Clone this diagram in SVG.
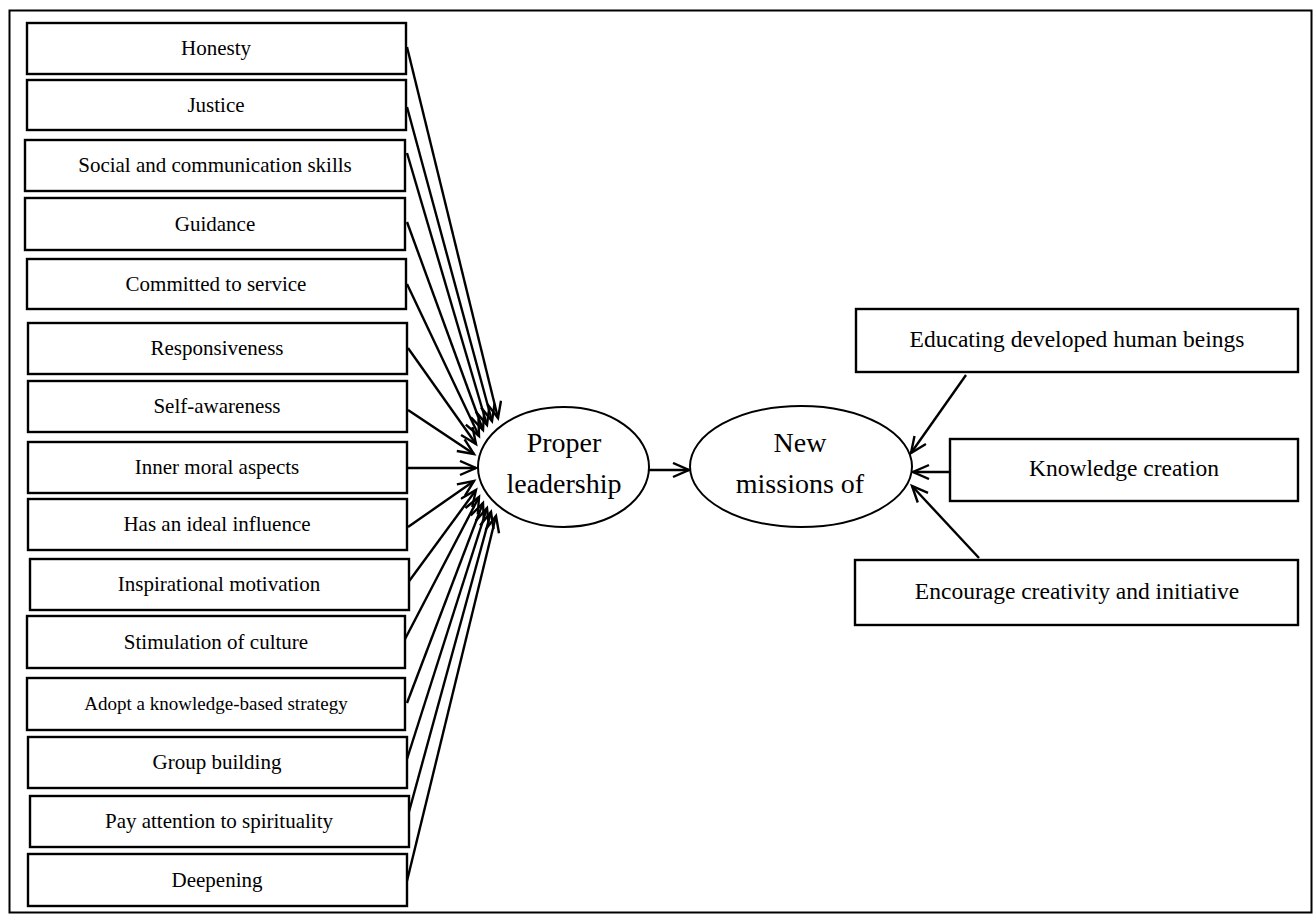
<svg xmlns="http://www.w3.org/2000/svg" width="1314" height="914" viewBox="0 0 1314 914">
<style>
.box{fill:#fff;stroke:#000;stroke-width:2.4}
.ell{fill:#fff;stroke:#000;stroke-width:2}
.t{font-family:"Liberation Serif","Times New Roman",serif;font-size:21px;fill:#000;text-anchor:middle}
.ts{font-size:19px}
.tr{font-size:23.5px}
.te{font-size:28px}
.c{stroke:#000;stroke-width:2.4;fill:none;marker-end:url(#ah)}
</style>
<defs>
<marker id="ah" markerUnits="userSpaceOnUse" markerWidth="20" markerHeight="18" refX="17" refY="8" orient="auto">
<path d="M1,1 L17,8 L1,15" fill="none" stroke="#000" stroke-width="2.4"/>
</marker>
</defs>
<rect x="0" y="0" width="1314" height="914" fill="#fff"/>
<rect x="9.5" y="10.5" width="1302" height="902" fill="none" stroke="#000" stroke-width="2"/>

<g id="connectors">
<line class="c" x1="407" y1="47" x2="498" y2="418"/>
<line class="c" x1="407" y1="107" x2="492" y2="421"/>
<line class="c" x1="407" y1="153" x2="487" y2="425"/>
<line class="c" x1="407" y1="222" x2="483" y2="430"/>
<line class="c" x1="407" y1="284" x2="479" y2="436"/>
<line class="c" x1="408" y1="348" x2="476" y2="444"/>
<line class="c" x1="408" y1="410" x2="474" y2="454"/>
<line class="c" x1="408" y1="468" x2="476" y2="468"/>
<line class="c" x1="408" y1="527" x2="474" y2="481"/>
<line class="c" x1="407" y1="584" x2="476" y2="490"/>
<line class="c" x1="404" y1="641" x2="479" y2="497"/>
<line class="c" x1="407" y1="703" x2="483" y2="503"/>
<line class="c" x1="407" y1="759" x2="487" y2="508"/>
<line class="c" x1="407" y1="819" x2="491" y2="512"/>
<line class="c" x1="407" y1="881" x2="496" y2="516"/>
<line class="c" x1="649" y1="470" x2="689" y2="470"/>
<line class="c" x1="966" y1="375" x2="911" y2="453"/>
<line class="c" x1="950" y1="472" x2="913" y2="472"/>
<line class="c" x1="979" y1="558" x2="912" y2="486"/>
</g>

<g id="n1"><rect class="box" x="27" y="23" width="379" height="51"/><text class="t" x="216" y="55">Honesty</text></g>
<g id="n2"><rect class="box" x="27" y="80" width="379" height="50"/><text class="t" x="216" y="112">Justice</text></g>
<g id="n3"><rect class="box" x="25" y="140" width="380" height="51"/><text class="t" x="215" y="172">Social and communication skills</text></g>
<g id="n4"><rect class="box" x="25" y="198" width="380" height="52"/><text class="t" x="215" y="231">Guidance</text></g>
<g id="n5"><rect class="box" x="27" y="259" width="379" height="50"/><text class="t" x="216" y="291">Committed to service</text></g>
<g id="n6"><rect class="box" x="28" y="323" width="379" height="51"/><text class="t" x="217" y="355">Responsiveness</text></g>
<g id="n7"><rect class="box" x="28" y="381" width="379" height="51"/><text class="t" x="217" y="413">Self-awareness</text></g>
<g id="n8"><rect class="box" x="28" y="442" width="379" height="51"/><text class="t" x="217" y="474">Inner moral aspects</text></g>
<g id="n9"><rect class="box" x="28" y="499" width="379" height="51"/><text class="t" x="217" y="531">Has an ideal influence</text></g>
<g id="n10"><rect class="box" x="30" y="559" width="379" height="51"/><text class="t" x="219" y="591">Inspirational motivation</text></g>
<g id="n11"><rect class="box" x="27" y="616" width="378" height="52"/><text class="t" x="216" y="649">Stimulation of culture</text></g>
<g id="n12"><rect class="box" x="27" y="678" width="378" height="52"/><text class="t ts" x="216" y="710">Adopt a knowledge-based strategy</text></g>
<g id="n13"><rect class="box" x="28" y="737" width="379" height="51"/><text class="t" x="217" y="769">Group building</text></g>
<g id="n14"><rect class="box" x="30" y="796" width="379" height="51"/><text class="t" x="219" y="828">Pay attention to spirituality</text></g>
<g id="n15"><rect class="box" x="28" y="854" width="379" height="52"/><text class="t" x="217" y="887">Deepening</text></g>

<g id="proper"><ellipse class="ell" cx="563.5" cy="467" rx="85.5" ry="60"/><text class="t te" x="564" y="452">Proper</text><text class="t te" x="564" y="493">leadership</text></g>
<g id="newmissions"><ellipse class="ell" cx="801" cy="466.5" rx="111" ry="60.5"/><text class="t te" x="800" y="452">New</text><text class="t te" x="800" y="493">missions of</text></g>

<g id="r1"><rect class="box" x="856" y="309" width="442" height="63"/><text class="t tr" x="1077" y="347">Educating developed human beings</text></g>
<g id="r2"><rect class="box" x="950" y="439" width="348" height="62"/><text class="t tr" x="1124" y="476">Knowledge creation</text></g>
<g id="r3"><rect class="box" x="855" y="560" width="443" height="65"/><text class="t tr" x="1077" y="599">Encourage creativity and initiative</text></g>
</svg>
